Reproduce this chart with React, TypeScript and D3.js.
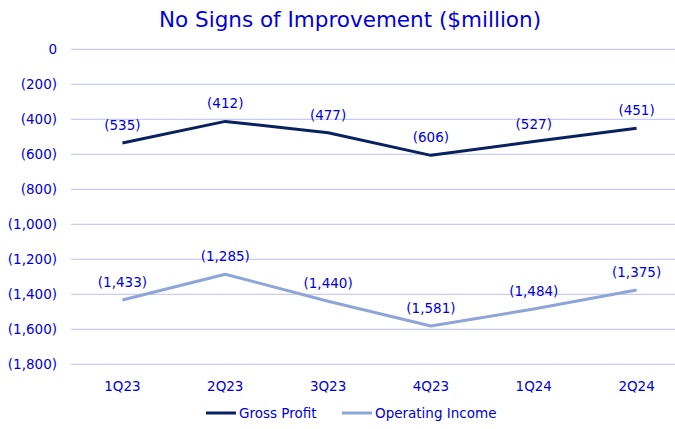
import { scaleBand, scaleLinear, line } from 'd3'

// Excel-style line chart, blue text on white, thin lavender gridlines.

const TEXT = '#0000dd'
const GRID = '#bfbff6'
const GP = '#0a2160'
const OI = '#8ea5d8'
const FONT = 'Verdana, "DejaVu Sans", sans-serif'

const quarters = ['1Q23', '2Q23', '3Q23', '4Q23', '1Q24', '2Q24']
const grossProfit = [-535, -412, -477, -606, -527, -451]
const operatingIncome = [-1433, -1285, -1440, -1581, -1484, -1375]
const yTicks = [0, -200, -400, -600, -800, -1000, -1200, -1400, -1600, -1800]

const fmt = (v: number) => {
  if (v === 0) return '0'
  const s = Math.abs(v).toLocaleString('en-US')
  return v < 0 ? `(${s})` : s
}

export default function App() {
  const width = 675
  const height = 429
  const m = { left: 71, right: -13, top: 49.3, bottom: 64.7 }
  const x = scaleBand().domain(quarters).range([m.left, width - m.right]).padding(0)
  const y = scaleLinear().domain([0, -1800]).range([m.top, height - m.bottom])
  const cx = (q: string) => (x(q) ?? 0) + x.bandwidth() / 2
  const mk = line<number>()
    .x((_, i) => cx(quarters[i]))
    .y((d) => y(d))

  const series = [
    { name: 'Gross Profit', values: grossProfit, color: GP },
    { name: 'Operating Income', values: operatingIncome, color: OI },
  ]

  return (
    <svg
      width={width}
      height={height}
      style={{ position: 'absolute', left: 0, top: 0, fontFamily: FONT }}
      viewBox={`0 0 ${width} ${height}`}
    >
      <rect width={width} height={height} fill="#fff" />
      <text x={350} y={27} textAnchor="middle" fill={TEXT} fontSize={21.5}>
        No Signs of Improvement ($million)
      </text>
      {yTicks.map((t) => (
        <g key={t}>
          <line x1={m.left} x2={width} y1={y(t)} y2={y(t)} stroke={GRID} strokeWidth={1} />
          <text x={57} y={y(t)} textAnchor="end" dominantBaseline="central" fill={TEXT} fontSize={13.5}>
            {fmt(t)}
          </text>
        </g>
      ))}
      {quarters.map((q) => (
        <text key={q} x={cx(q)} y={y(-1800) + 21.5} textAnchor="middle" dominantBaseline="central" fill={TEXT} fontSize={13.5}>
          {q}
        </text>
      ))}
      {series.map((s) => (
        <g key={s.name}>
          <path d={mk(s.values) ?? ''} fill="none" stroke={s.color} strokeWidth={3} strokeLinejoin="round" />
          {s.values.map((v, i) => (
            <text
              key={i}
              x={cx(quarters[i])}
              y={y(v) - 18}
              textAnchor="middle"
              dominantBaseline="central"
              fill={TEXT}
              fontSize={13.5}
            >
              {fmt(v)}
            </text>
          ))}
        </g>
      ))}
      <g>
        <line x1={206} x2={236} y1={413} y2={413} stroke={GP} strokeWidth={3} />
        <text x={239} y={413} dominantBaseline="central" fill={TEXT} fontSize={13.5}>
          Gross Profit
        </text>
        <line x1={342} x2={372} y1={413} y2={413} stroke={OI} strokeWidth={3} />
        <text x={375} y={413} dominantBaseline="central" fill={TEXT} fontSize={13.5}>
          Operating Income
        </text>
      </g>
    </svg>
  )
}
